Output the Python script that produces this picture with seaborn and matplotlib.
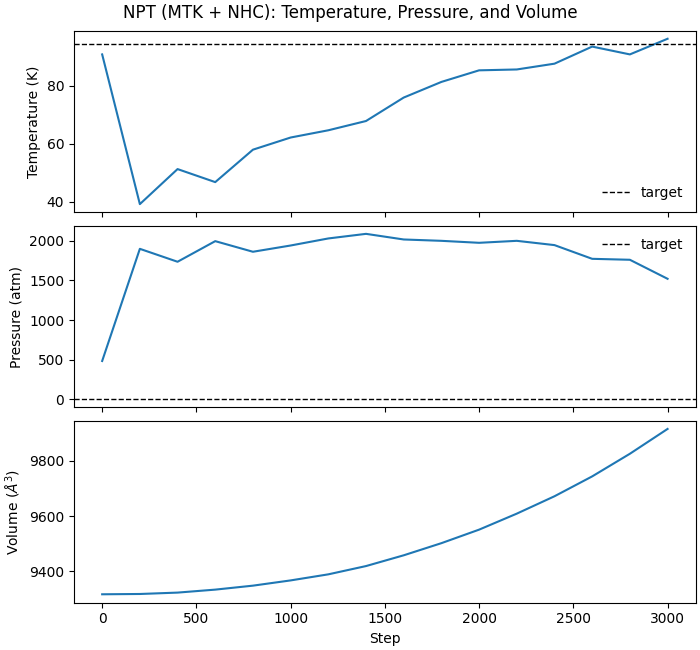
import numpy as np
import matplotlib
matplotlib.use('Agg')
import matplotlib.pyplot as plt
import seaborn as sns

# ===== data =====
steps = [0, 200, 400, 600, 800, 1000, 1200, 1400, 1600, 1800,
         2000, 2200, 2400, 2600, 2800, 3000]
temperature = [90.9, 39.2, 51.3, 46.8, 58.0, 62.2, 64.7, 67.9, 76.0, 81.4,
               85.4, 85.7, 87.7, 93.6, 90.9, 96.3]
pressure = [483, 1898, 1735, 1995, 1861, 1940, 2029, 2087, 2016, 1999,
            1974, 1999, 1945, 1772, 1760, 1520]
volume = [9316.7, 9317.8, 9322.8, 9333.6, 9348, 9367, 9389, 9419, 9458, 9502,
          9551, 9609, 9672, 9744, 9826, 9916]
target_T = 94.4
target_P = 1.0

fig, axes = plt.subplots(3, 1, figsize=(7, 6.5), sharex=True, dpi=100,
                         layout='constrained')

# temperature
sns.lineplot(x=steps, y=temperature, ax=axes[0], color='tab:blue')
axes[0].axhline(target_T, color='black', linestyle='--', linewidth=1, label='target')
axes[0].set_ylabel('Temperature (K)')
axes[0].legend(frameon=False, loc='lower right')

# pressure
sns.lineplot(x=steps, y=pressure, ax=axes[1], color='tab:blue')
axes[1].axhline(target_P, color='black', linestyle='--', linewidth=1, label='target')
axes[1].set_ylabel('Pressure (atm)')
axes[1].legend(frameon=False, loc='upper right')

# volume
sns.lineplot(x=steps, y=volume, ax=axes[2], color='tab:blue')
axes[2].set_ylabel(r'Volume ($\AA^3$)')
axes[2].set_xlabel('Step')

fig.suptitle('NPT (MTK + NHC): Temperature, Pressure, and Volume')
plt.savefig('out.png', dpi=100)
